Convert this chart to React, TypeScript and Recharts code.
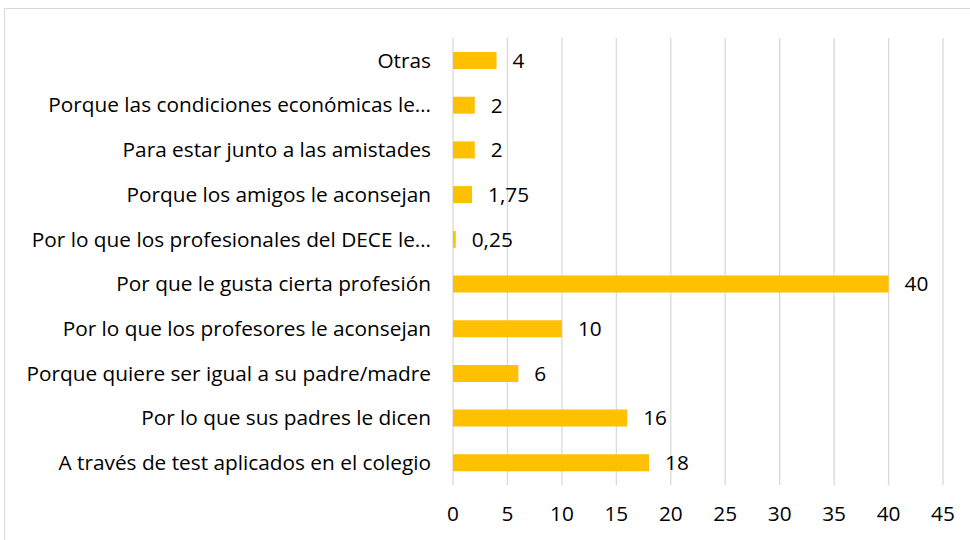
import { BarChart, Bar, XAxis, YAxis, CartesianGrid, LabelList } from "recharts";

const categories = [
  "Otras",
  "Porque las condiciones económicas le…",
  "Para estar junto a las amistades",
  "Porque los amigos le aconsejan",
  "Por lo que los profesionales del DECE le…",
  "Por que le gusta cierta profesión",
  "Por lo que los profesores le aconsejan",
  "Porque quiere ser igual a su padre/madre",
  "Por lo que sus padres le dicen",
  "A través de test aplicados en el colegio",
];

const values = [4, 2, 2, 1.75, 0.25, 40, 10, 6, 16, 18];

const xTicks = [0, 5, 10, 15, 20, 25, 30, 35, 40, 45];

const data = categories.map((name, i) => ({ name, value: values[i] }));

const font = "'Open Sans', 'Noto Sans', sans-serif";
const fs = 20.8;

export default function App() {
  return (
    <div style={{ position: "absolute", left: 0, top: 0, width: 970, height: 540, overflow: "hidden", background: "#fff" }}>
      <div
        style={{
          position: "absolute",
          left: 4,
          top: 8,
          width: 990,
          height: 560,
          border: "1px solid #d9d9d9",
        }}
      />
      <BarChart
        width={970}
        height={540}
        data={data}
        layout="vertical"
        margin={{ top: 38, right: 27, bottom: 0, left: 0 }}
        style={{ fontFamily: font }}
      >
        <CartesianGrid horizontal={false} stroke="#d9d9d9" strokeWidth={1.3} />
        <XAxis
          type="number"
          domain={[0, 45]}
          ticks={xTicks}
          axisLine={false}
          tickLine={false}
          tickSize={0}
          tickMargin={21}
          height={55}
          tick={{ fill: "#000", fontSize: fs }}
        />
        <YAxis
          type="category"
          dataKey="name"
          width={453}
          axisLine={false}
          tickLine={false}
          tickSize={0}
          tickMargin={22}
          interval={0}
          tick={{ fill: "#000", fontSize: fs }}
        />
        <Bar dataKey="value" fill="#FFC000" barSize={17} isAnimationActive={false}>
          <LabelList
            dataKey="value"
            position="right"
            offset={16}
            fill="#000"
            fontSize={fs}
            formatter={(v: number) => String(v).replace(".", ",")}
          />
        </Bar>
      </BarChart>
    </div>
  );
}
